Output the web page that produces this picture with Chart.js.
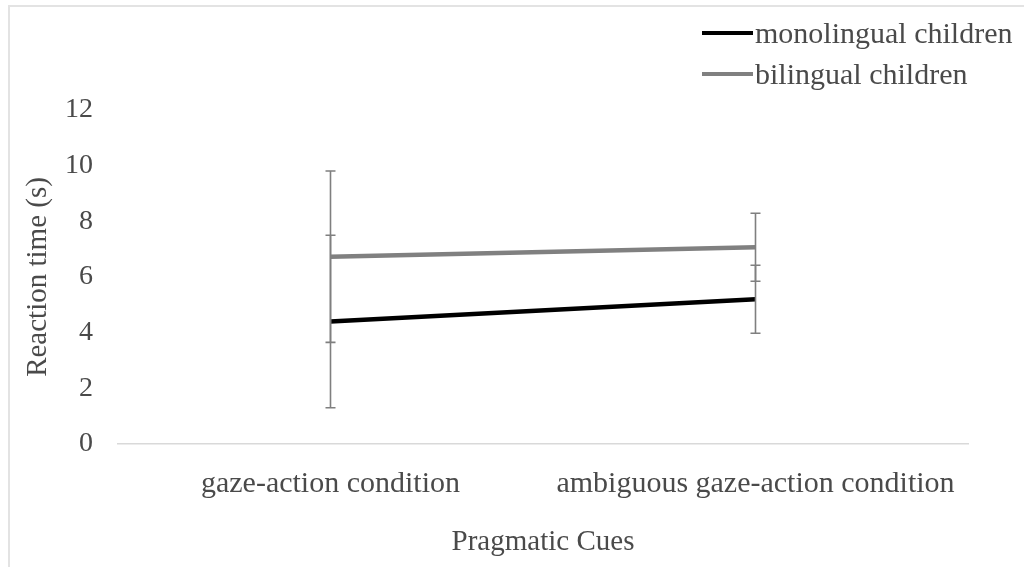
<!DOCTYPE html>
<html>
<head>
<meta charset="utf-8">
<script src="https://cdn.jsdelivr.net/npm/chart.js@4/dist/chart.umd.min.js"></script>
<style>
  html, body { margin: 0; padding: 0; background: #fff; }
  #wrap { position: relative; width: 1024px; height: 567px; overflow: hidden; }
  #frame { position: absolute; left: 8px; top: 5px; right: -10px; bottom: -10px;
           border-top: 2px solid #e3e3e3; border-left: 2px solid #e3e3e3; pointer-events: none; }
  canvas { position: absolute; left: 0; top: 0; }
</style>
</head>
<body>
<div id="wrap">
  <canvas id="c" width="1024" height="567"></canvas>
  <div id="frame"></div>
</div>
<script>
const categories = ["gaze-action condition", "ambiguous gaze-action condition"];
const seriesNames = ["monolingual children", "bilingual children"];
const monolingual = [4.4, 5.2];
const bilingual = [6.73, 7.07];
const monolingualErr = [3.1, 1.22];
const bilingualErr = [3.08, 1.22];
const yTicks = [0, 2, 4, 6, 8, 10, 12];

const FONT = "'Liberation Serif', 'Times New Roman', serif";
const TEXT = "#4a4a4a";

const errorBars = {
  id: 'errorBars',
  afterDatasetsDraw(chart) {
    const ctx = chart.ctx;
    const y = chart.scales.y;
    ctx.save();
    ctx.strokeStyle = '#7f7f7f';
    ctx.lineWidth = 1.6;
    chart.data.datasets.forEach((ds, i) => {
      const meta = chart.getDatasetMeta(i);
      meta.data.forEach((pt, j) => {
        const v = ds.data[j], e = ds.errors[j];
        const top = y.getPixelForValue(v + e);
        const bot = y.getPixelForValue(v - e);
        const x = pt.x;
        ctx.beginPath();
        ctx.moveTo(x, top); ctx.lineTo(x, bot);
        ctx.moveTo(x - 5, top); ctx.lineTo(x + 5, top);
        ctx.moveTo(x - 5, bot); ctx.lineTo(x + 5, bot);
        ctx.stroke();
      });
    });
    ctx.restore();
  }
};

const customLegend = {
  id: 'customLegend',
  afterDraw(chart) {
    const ctx = chart.ctx;
    ctx.save();
    ctx.font = "30px " + FONT;
    ctx.textBaseline = 'middle';
    ctx.textAlign = 'left';
    const rows = [33, 74];
    chart.data.datasets.forEach((ds, i) => {
      const yy = rows[i];
      ctx.strokeStyle = ds.borderColor;
      ctx.lineWidth = 4;
      ctx.beginPath();
      ctx.moveTo(702, yy); ctx.lineTo(753, yy);
      ctx.stroke();
      ctx.fillStyle = TEXT;
      ctx.fillText(ds.label, 755, yy + 2);
    });
    ctx.restore();
  }
};

new Chart(document.getElementById('c'), {
  type: 'line',
  data: {
    labels: categories,
    datasets: [
      { label: seriesNames[0], data: monolingual, errors: monolingualErr,
        borderColor: '#000000', backgroundColor: '#000000', borderWidth: 4.5,
        pointRadius: 0, tension: 0 },
      { label: seriesNames[1], data: bilingual, errors: bilingualErr,
        borderColor: '#808080', backgroundColor: '#808080', borderWidth: 4.5,
        pointRadius: 0, tension: 0 }
    ]
  },
  options: {
    responsive: false,
    animation: false,
    devicePixelRatio: 1,
    layout: { padding: { top: 110, right: 56, bottom: 0, left: 0 } },
    plugins: { legend: { display: false }, tooltip: { enabled: false } },
    scales: {
      x: {
        offset: true,
        grid: { display: false, drawTicks: false },
        border: { display: true, color: '#d9d9d9', width: 1.5 },
        ticks: { color: TEXT, font: { family: FONT, size: 30 }, padding: 22, maxRotation: 0, autoSkip: false },
        title: { display: true, text: 'Pragmatic Cues', color: TEXT,
                 font: { family: FONT, size: 29 }, padding: { top: 0, bottom: 7 } },
        afterFit(s) { s.height = 123; }
      },
      y: {
        min: 0, max: 12,
        afterBuildTicks(s) { s.ticks = yTicks.map(v => ({ value: v })); },
        grid: { display: false, drawTicks: false },
        border: { display: false },
        ticks: { color: TEXT, font: { family: FONT, size: 28 }, padding: 25 },
        title: { display: true, text: 'Reaction time (s)', color: TEXT,
                 font: { family: FONT, size: 29 }, padding: { top: 21, bottom: 0 } },
        afterFit(s) { s.width = 118; }
      }
    }
  },
  plugins: [errorBars, customLegend]
});
</script>
</body>
</html>
